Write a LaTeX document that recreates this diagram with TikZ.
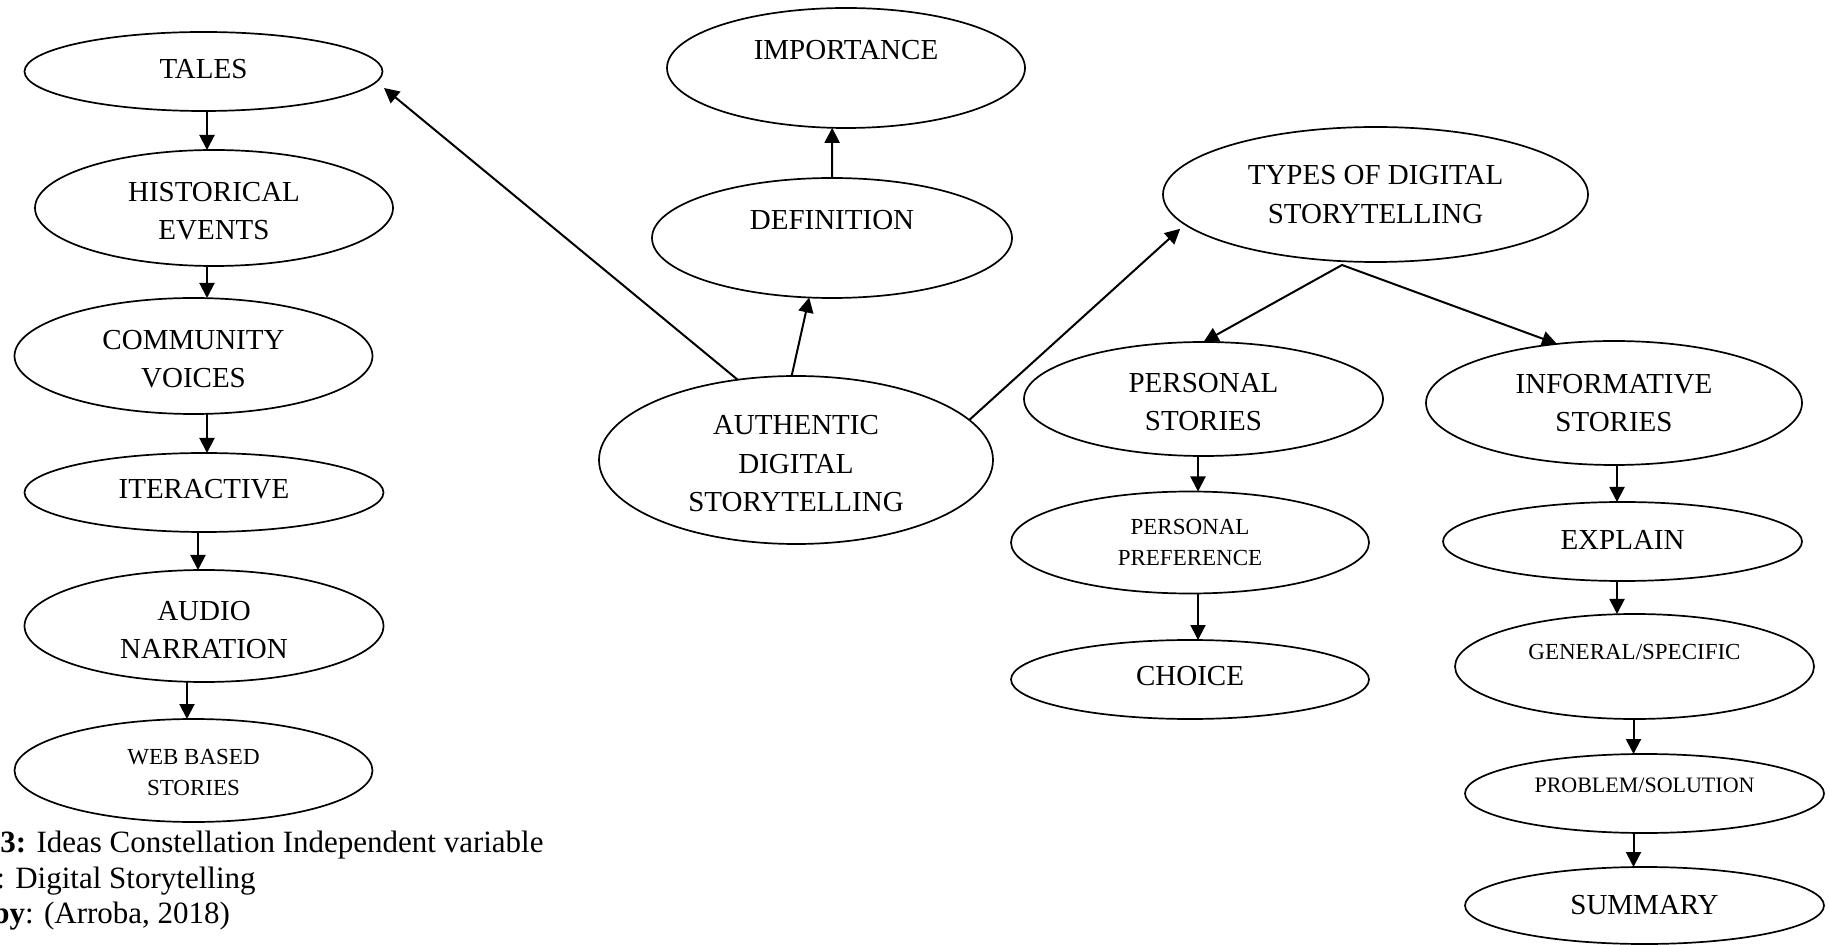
\documentclass[tikz,border=0pt]{standalone}
\usepackage{fontspec}
\setmainfont{Liberation Serif}
\usetikzlibrary{shapes.geometric,arrows.meta}
\begin{document}
\begin{tikzpicture}[x=0.5pt,y=-0.5pt,
  bub/.style={ellipse, draw, line width=0.85pt, inner sep=0pt, outer sep=0pt},
  lab/.style={align=center, inner sep=0pt, font=\fontsize{14.5}{19.25}\selectfont},
  slab/.style={align=center, inner sep=0pt, font=\fontsize{11.5}{15.5}\selectfont},
  xslab/.style={align=center, inner sep=0pt, font=\fontsize{11}{15}\selectfont},
  arr/.style={line width=1pt, -{Triangle[length=7.5pt,width=7.5pt]}},
  capline/.style={anchor=base west, inner sep=0pt, font=\fontsize{15.5}{18}\selectfont}]
\useasboundingbox (0,0) rectangle (1829,945);
\clip (0,0) rectangle (1829,945);

% left column
\node[bub, minimum width=179pt, minimum height=39.5pt, label={[lab,yshift=1pt]center:TALES}] (tales) at (203.5,71.5) {};
\node[bub, minimum width=179pt, minimum height=58pt, label={[lab,yshift=-1.5pt]center:{HISTORICAL\\EVENTS}}] (hist) at (214,208) {};
\node[bub, minimum width=179pt, minimum height=58pt, label={[lab,yshift=-1.5pt]center:{COMMUNITY\\VOICES}}] (comm) at (193.5,356) {};
\node[bub, minimum width=179.5pt, minimum height=39.5pt, label={[lab,yshift=1.5pt]center:ITERACTIVE}] (iter) at (204,492.5) {};
\node[bub, minimum width=179.5pt, minimum height=56pt, label={[lab,yshift=-2pt]center:{AUDIO\\NARRATION}}] (audio) at (204,626) {};
\node[bub, minimum width=179pt, minimum height=51.5pt, label={[slab,yshift=-1pt]center:{WEB BASED\\STORIES}}] (web) at (193.5,770.5) {};

% centre
\node[bub, minimum width=179pt, minimum height=60pt, label={[lab,yshift=9pt]center:IMPORTANCE}] (imp) at (846,68) {};
\node[bub, minimum width=180pt, minimum height=60pt, label={[lab,yshift=9pt]center:DEFINITION}] (def) at (832,238) {};
\node[bub, minimum width=197pt, minimum height=84pt, label={[lab,yshift=-2pt]center:{AUTHENTIC\\DIGITAL\\STORYTELLING}}] (auth) at (796,460) {};

% right side
\node[bub, minimum width=212.5pt, minimum height=67.5pt, label={[lab]center:{TYPES OF DIGITAL\\STORYTELLING}}] (types) at (1375.5,194.5) {};
\node[bub, minimum width=179.5pt, minimum height=57pt, label={[lab,yshift=-1.5pt]center:{PERSONAL\\STORIES}}] (pers) at (1203.5,399) {};
\node[bub, minimum width=179pt, minimum height=51pt, label={[slab]center:{PERSONAL\\PREFERENCE}}] (pref) at (1190,542.5) {};
\node[bub, minimum width=179pt, minimum height=39.5pt, label={[lab,yshift=1.5pt]center:CHOICE}] (choice) at (1190,679.5) {};
\node[bub, minimum width=188pt, minimum height=62pt, label={[lab]center:{INFORMATIVE\\STORIES}}] (inf) at (1614,403) {};
\node[bub, minimum width=179.5pt, minimum height=39.5pt, label={[lab,yshift=1pt]center:EXPLAIN}] (expl) at (1622.5,541.5) {};
\node[bub, minimum width=179.5pt, minimum height=52.5pt, label={[slab,yshift=7.5pt]center:GENERAL/SPECIFIC}] (gen) at (1634.5,666.5) {};
\node[bub, minimum width=179.5pt, minimum height=39.5pt, label={[xslab,yshift=4.25pt]center:PROBLEM/SOLUTION}] (prob) at (1644.5,793.5) {};
\node[bub, minimum width=179.5pt, minimum height=38.5pt, label={[lab]center:SUMMARY}] (summ) at (1644.5,905.5) {};

% left column chain
\draw[arr] ([xshift=1.75pt]tales.south) -- ([xshift=-3.5pt]hist.north);
\draw[arr] ([xshift=-3.5pt]hist.south) -- ([xshift=6.75pt]comm.north);
\draw[arr] ([xshift=6.75pt]comm.south) -- ([xshift=1.5pt]iter.north);
\draw[arr] ([xshift=-3pt]iter.south) -- ([xshift=-3pt]audio.north);
\draw[arr] ([xshift=-8.5pt]audio.south) -- ([xshift=-3.25pt]web.north);

% from the central idea
\draw[arr] (auth.126) -- ([shift={(1.5,16.5)}]tales.east);
\draw[arr] (auth.93) -- (def.-111);
\draw[arr] (def.north) -- (imp.-103);
\draw[arr] (auth.13) -- ([shift={(-1,7)}]types.188);

% the two kinds of stories
\coordinate (fork) at (1342,265);
\draw[line width=1pt, {Triangle[length=7.5pt,width=7.5pt]}-{Triangle[length=7.5pt,width=7.5pt]}] (pers.north) -- (fork) -- (inf.134);

% right columns
\draw[arr] ([xshift=-2.75pt]pers.south) -- ([xshift=4pt]pref.north);
\draw[arr] ([xshift=4pt]pref.south) -- ([xshift=4pt]choice.north);
\draw[arr] ([xshift=1.5pt]inf.south) -- ([xshift=-2.75pt]expl.north);
\draw[arr] ([xshift=-2.75pt]expl.south) -- ([xshift=-8.75pt]gen.north);
\draw[arr] ([xshift=-0.5pt]gen.south) -- ([xshift=-5.5pt]prob.north);
\draw[arr] ([xshift=-5.5pt]prob.south) -- ([xshift=-5.5pt]summ.north);

% caption
\node[capline] (cap1) at (0,852) {\textbf{3:} Ideas Constellation Independent variable};
\node[capline] (cap2) at (-4,888) {: Digital Storytelling};
\node[capline] (cap3) at (-8,923) {\textbf{by}: (Arroba, 2018)};
\end{tikzpicture}
\end{document}
